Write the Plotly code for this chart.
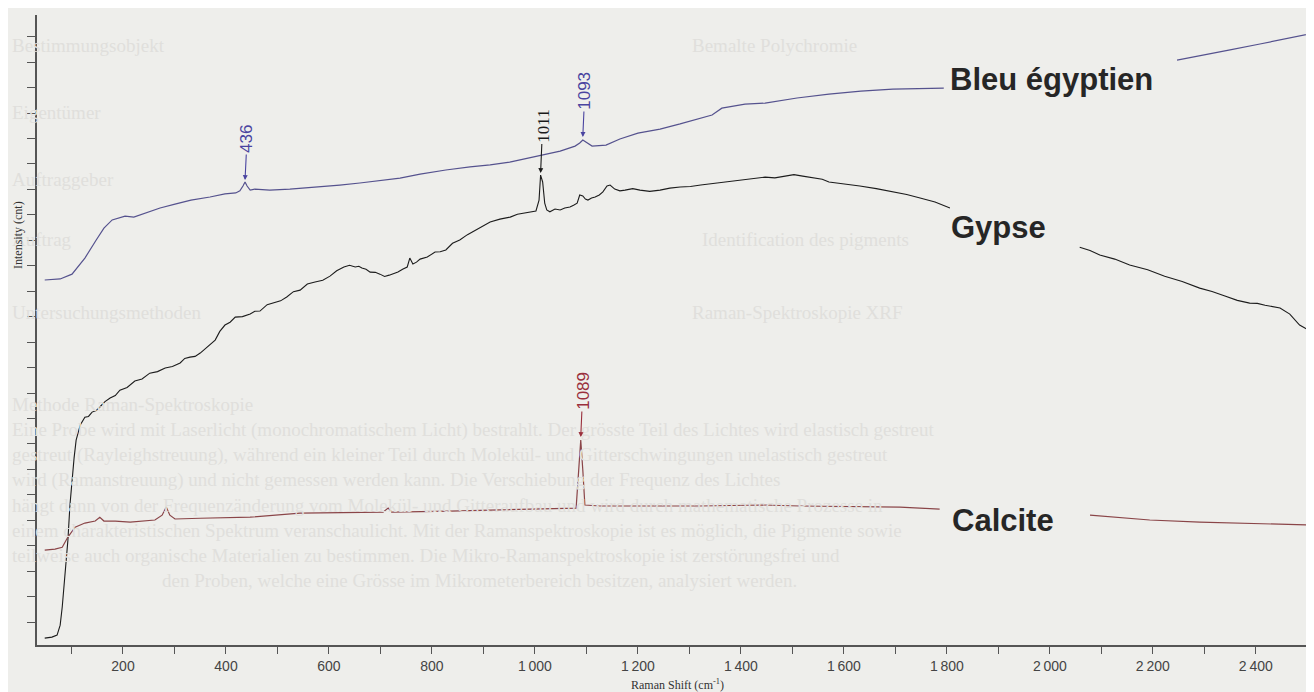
import plotly.graph_objects as go

# ---------------- data (Raman shift in cm-1, intensity in arbitrary units) ----------------
bleu_x = [48, 78, 101, 126, 148, 163, 179, 204, 221, 243, 272, 301, 332, 369, 398, 419,
          427, 433, 437, 441, 447, 456, 485, 524, 581, 621, 660, 705, 738, 777, 827, 874,
          913, 951, 990, 1014, 1049, 1078, 1087, 1093, 1099, 1111, 1138, 1165, 1200, 1243,
          1282, 1322, 1344, 1363, 1384, 1408, 1447, 1509, 1571, 1633, 1695, 1757, 1794,
          2000, 2247, 2291, 2350, 2408, 2466, 2513]
bleu_y = [14.44, 14.48, 14.67, 15.30, 16.01, 16.48, 16.80, 16.95, 16.91, 17.07, 17.27, 17.42, 17.58, 17.70, 17.82, 17.86,
          17.94, 18.13, 18.29, 18.13, 17.97, 18.01, 17.97, 18.01, 18.09, 18.17, 18.25, 18.37, 18.44, 18.60, 18.76, 18.88,
          18.96, 19.07, 19.23, 19.35, 19.50, 19.70, 19.82, 19.94, 19.86, 19.70, 19.74, 19.98, 20.21, 20.37,
          20.57, 20.80, 20.92, 21.19, 21.27, 21.35, 21.39, 21.59, 21.74, 21.86, 21.94, 21.98, 21.98,
          None, 23.08, 23.24, 23.48, 23.71, 23.95, 24.14]

gypse_x = [48, 62, 72, 78, 82, 87, 93, 97, 101, 105, 109, 117, 126, 133, 140, 148,
           155, 165, 175, 185, 194, 208, 223, 237, 252, 267, 282, 296, 311, 320, 330, 340,
           350, 365, 379, 388, 398, 408, 418, 432, 447, 456, 466, 480, 495, 506, 518, 531,
           544, 558, 573, 588, 602, 615, 629, 640, 651, 658, 664, 672, 680, 690, 699, 708,
           717, 726, 734, 743, 752, 757, 763, 770, 777, 791, 806, 816, 827, 840, 854, 869,
           884, 898, 913, 932, 952, 966, 981, 992, 1002, 1008, 1011, 1015, 1019, 1023, 1029, 1039,
           1049, 1058, 1068, 1075, 1082, 1087, 1093, 1098, 1103, 1110, 1117, 1125, 1132, 1140, 1146, 1155,
           1165, 1175, 1190, 1204, 1223, 1243, 1262, 1282, 1302, 1322, 1350, 1379, 1413, 1447, 1466, 1485,
           1503, 1520, 1532, 1544, 1558, 1571, 1601, 1631, 1663, 1695, 1722, 1748, 1777, 1806, 1950, 2058,
           2078, 2097, 2126, 2155, 2190, 2223, 2257, 2291, 2315, 2340, 2364, 2388, 2403, 2418, 2432, 2447,
           2466, 2485, 2500, 2513]
gypse_y = [0.37, 0.41, 0.49, 0.88, 1.59, 2.85, 4.22, 5.60, 6.58, 7.44, 8.15, 8.74, 9.05, 9.08, 9.25, 9.31,
           9.45, 9.66, 9.80, 9.90, 10.11, 10.22, 10.47, 10.55, 10.78, 10.84, 10.98, 11.04, 11.18, 11.36, 11.41, 11.44,
           11.57, 11.85, 12.08, 12.42, 12.67, 12.78, 12.98, 13.00, 13.10, 13.21, 13.22, 13.47, 13.57, 13.62, 13.77, 13.98,
           14.04, 14.28, 14.36, 14.43, 14.59, 14.80, 14.95, 15.02, 14.95, 14.98, 14.91, 14.86, 14.75, 14.74, 14.67, 14.58,
           14.63, 14.70, 14.75, 14.86, 14.95, 15.30, 15.07, 15.14, 15.26, 15.34, 15.54, 15.55, 15.62, 15.88, 16.01, 16.22,
           16.40, 16.57, 16.72, 16.83, 16.91, 17.02, 17.07, 17.10, 17.15, 17.58, 18.56, 18.29, 17.46, 17.19, 17.12, 17.23,
           17.19, 17.27, 17.31, 17.38, 17.46, 17.78, 17.74, 17.62, 17.58, 17.66, 17.70, 17.78, 17.90, 18.13, 18.17, 18.01,
           17.94, 17.97, 18.03, 17.97, 17.92, 17.97, 18.05, 18.09, 18.11, 18.17, 18.24, 18.33, 18.39, 18.48, 18.45, 18.52,
           18.58, 18.52, 18.49, 18.44, 18.40, 18.29, 18.22, 18.13, 18.03, 17.90, 17.80, 17.66, 17.50, 17.27, None, 15.73,
           15.60, 15.42, 15.26, 15.03, 14.84, 14.59, 14.38, 14.12, 13.99, 13.81, 13.64, 13.53, 13.52, 13.45, 13.40, 13.34,
           13.10, 12.67, 12.50, 12.28]

calcite_x = [48, 68, 82, 93, 107, 126, 146, 155, 163, 185, 214, 262, 276, 284, 291, 301,
             350, 447, 544, 641, 705, 715, 722, 835, 932, 1049, 1080, 1085, 1089, 1093, 1097,
             1126, 1320, 1443, 1515, 1709, 1786, 1900, 2078, 2194, 2291, 2388, 2513]
calcite_y = [3.83, 3.87, 3.94, 4.34, 4.73, 4.89, 4.97, 5.12, 4.97, 4.97, 4.93, 5.01, 5.20, 5.52, 5.20, 5.05,
             5.08, 5.12, 5.28, 5.32, 5.32, 5.48, 5.32, 5.36, 5.40, 5.44, 5.48, 6.97, 8.15, 6.97, 5.60,
             5.56, 5.56, 5.60, 5.56, 5.52, 5.44, None, 5.20, 5.01, 4.93, 4.89, 4.81]

# peak labels
peak_text = ["436", "1011", "1093", "1089"]
peak_x = [437, 1011, 1093, 1089]
peak_y = [18.37, 18.64, 20.06, 8.27]
peak_color = ["#4a44a0", "#1a1a1a", "#4a44a0", "#9a2f3c"]
peak_font = ["Liberation Sans", "Liberation Serif", "Liberation Sans", "Liberation Sans"]

series_names = ["Bleu égyptien", "Gypse", "Calcite"]
series_label_x = [2004, 1901, 1909]
series_label_y = [22.33, 16.52, 5.00]

major_ticks = list(range(200, 2600, 200))
major_text = [f"{v // 1000}\u2009{v % 1000:03d}" if v >= 1000 else str(v) for v in major_ticks]
minor_ticks = list(range(100, 2600, 200))

# faint text bleeding through the scanned page
bleed_text = ["Bestimmungsobjekt", "Bemalte Polychromie", "Eigentümer", "Auftraggeber", "Auftrag",
              "Identification des pigments", "Untersuchungsmethoden", "Raman-Spektroskopie XRF",
              "Methode Raman-Spektroskopie",
              "Eine Probe wird mit Laserlicht (monochromatischem Licht) bestrahlt. Der grösste Teil des Lichtes wird elastisch gestreut",
              "gestreut (Rayleighstreuung), während ein kleiner Teil durch Molekül- und Gitterschwingungen unelastisch gestreut",
              "wird (Ramanstreuung) und nicht gemessen werden kann. Die Verschiebung der Frequenz des Lichtes",
              "hängt dann von der Frequenzänderung vom Molekül- und Gitteraufbau und wird durch mathematische Prozesse in",
              "einem charakteristischen Spektrum veranschaulicht. Mit der Ramanspektroskopie ist es möglich, die Pigmente sowie",
              "teilweise auch organische Materialien zu bestimmen. Die Mikro-Ramanspektroskopie ist zerstörungsfrei und",
              "den Proben, welche eine Grösse im Mikrometerbereich besitzen, analysiert werden."]
bleed_px = [10, 690, 10, 10, 10, 700, 10, 690, 10, 10, 10, 10, 10, 10, 10, 160]
bleed_py = [45, 45, 112, 180, 240, 240, 312, 312, 404, 430, 455, 480, 505, 530, 555, 580]

# ---------------- figure ----------------
# the page body keeps its default 8 px margin, so the figure is 8 px smaller than the window
W, H = 1306, 684
ML, MR, MT, MB = 29, 0, 7, 47
PLOT_L, PLOT_B = 37, 645          # plot area edges in window pixels
PW, PH = W - ML - MR, H - MT - MB


def px2paper(px, py):
    return (px - PLOT_L) / PW, (PLOT_B - py) / PH


fig = go.Figure()
annotations = []
for t, px, py in zip(bleed_text, bleed_px, bleed_py):
    ax_, ay_ = px2paper(px, py)
    annotations.append(dict(text=t, x=ax_, y=ay_, xref="paper", yref="paper", xanchor="left", yanchor="middle",
                            showarrow=False, font=dict(family="Liberation Serif", size=19, color="#e0dfdc")))

fig.add_trace(go.Scatter(x=bleu_x, y=bleu_y, mode="lines", name=series_names[0],
                         line=dict(color="#55528e", width=1.2), connectgaps=False))
fig.add_trace(go.Scatter(x=gypse_x, y=gypse_y, mode="lines", name=series_names[1],
                         line=dict(color="#1c1c1c", width=1.1), connectgaps=False))
fig.add_trace(go.Scatter(x=calcite_x, y=calcite_y, mode="lines", name=series_names[2],
                         line=dict(color="#8a4548", width=1.2), connectgaps=False))

text_offsets = [-41, -47, -46, -46]
for t, x, y, c, f, off in zip(peak_text, peak_x, peak_y, peak_color, peak_font, text_offsets):
    annotations.append(dict(text=t, x=x, y=y, xref="x", yref="y", showarrow=True, ax=2, ay=off,
                            arrowhead=2, arrowsize=0.9, arrowwidth=1.1, arrowcolor=c, textangle=-90,
                            font=dict(family=f, size=17, color=c)))

for t, x, y in zip(series_names, series_label_x, series_label_y):
    annotations.append(dict(text="<b>" + t + "</b>", x=x, y=y, xref="x", yref="y", showarrow=False,
                            xanchor="center", yanchor="middle",
                            font=dict(family="Liberation Sans", size=31, color="#262626")))

tx, ty = px2paper(677, 684)
annotations.append(dict(text="Raman Shift (cm<sup>-1</sup>)", x=tx, y=ty, xref="paper", yref="paper",
                        xanchor="center", yanchor="middle",
                        showarrow=False, font=dict(family="Liberation Serif", size=12, color="#333333")))
tx, ty = px2paper(18, 235)
annotations.append(dict(text="Intensity (cnt)", x=tx, y=ty, xref="paper", yref="paper", textangle=-90,
                        xanchor="center", yanchor="middle",
                        showarrow=False, font=dict(family="Liberation Serif", size=12, color="#333333")))

fig.update_layout(
    width=W, height=H,
    margin=dict(l=ML, r=MR, t=MT, b=MB),
    paper_bgcolor="#eeeeeb", plot_bgcolor="rgba(0,0,0,0)",
    showlegend=False,
    annotations=annotations,
    xaxis=dict(range=[33, 2513], showgrid=False, zeroline=False, showline=True, linecolor="#555555", linewidth=1.5,
               tickmode="array", tickvals=major_ticks, ticktext=major_text, ticks="outside", ticklen=7,
               tickcolor="#555555", tickwidth=1.2,
               minor=dict(tickmode="array", tickvals=minor_ticks, ticks="outside", ticklen=7,
                          tickcolor="#555555", tickwidth=1.2, showgrid=False),
               tickfont=dict(family="Liberation Sans", size=14, color="#444444")),
    yaxis=dict(range=[0.1, 24.85], showgrid=False, zeroline=False, showline=True, linecolor="#555555", linewidth=1.5,
               tickmode="array", tickvals=list(range(1, 25)), showticklabels=False, ticks="outside", ticklen=8,
               tickcolor="#555555", tickwidth=1.2),
)

fig.write_html("out.html")
